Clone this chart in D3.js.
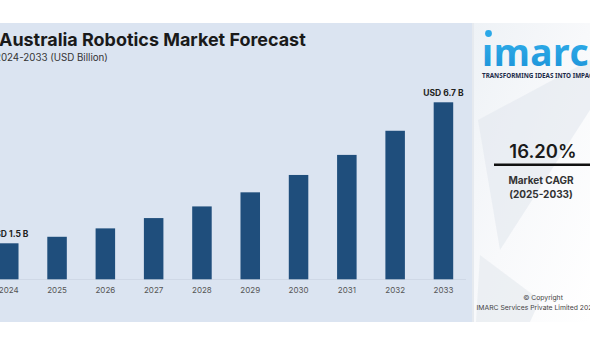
<!DOCTYPE html>
<html><head><meta charset="utf-8">
<script src="https://cdn.jsdelivr.net/npm/d3@7"></script>
<style>body{margin:0;background:#fff}svg{display:block}</style>
</head><body>
<svg id="c" width="590" height="354"></svg>
<script>
const years = ["2024","2025","2026","2027","2028","2029","2030","2031","2032","2033"];
const values = [1.5, 1.74, 2.05, 2.43, 2.86, 3.38, 4.02, 4.76, 5.65, 6.7];
const valueLabels = {"2024":"USD 1.5 B","2033":"USD 6.7 B"};
const titleText = "Australia Robotics Market Forecast";
const subtitleText = "2024-2033 (USD Billion)";
const cagrText = "16.20%";
const cagrLabel = ["Market CAGR","(2025-2033)"];

const svg = d3.select("#c");
const defs = svg.append("defs");
const g1 = defs.append("linearGradient").attr("id","rp").attr("x1","0").attr("y1","0").attr("x2","1").attr("y2","1");
g1.append("stop").attr("offset","0").attr("stop-color","#eef2f6");
g1.append("stop").attr("offset","0.5").attr("stop-color","#f8f9fb");
g1.append("stop").attr("offset","1").attr("stop-color","#ffffff");
const g2 = defs.append("linearGradient").attr("id","logo").attr("x1","0").attr("y1","0").attr("x2","0").attr("y2","1");
g2.append("stop").attr("offset","0").attr("stop-color","#35b6ef");
g2.append("stop").attr("offset","1").attr("stop-color","#1a8fd6");

// main panel
svg.append("rect").attr("x",0).attr("y",23).attr("width",472).attr("height",299).attr("fill","#dbe4f1");
// right panel
svg.append("rect").attr("x",472).attr("y",23).attr("width",118).attr("height",299).attr("fill","url(#rp)");
svg.append("line").attr("x1",473).attr("x2",473).attr("y1",23).attr("y2",322).attr("stroke","#e6eaef").attr("stroke-width",2);
// faint decorative shapes
svg.append("path").attr("d","M478,120 L590,60 L590,110 L500,250 Z").attr("fill","#e3e8ee").attr("opacity",0.6);
svg.append("path").attr("d","M480,255 L540,300 L530,322 L476,322 Z").attr("fill","#e7ebf0").attr("opacity",0.7);

const x = d3.scaleBand().domain(years).range([-1, 453.2]).paddingInner(0.596).paddingOuter(0);
const y = d3.scaleLinear().domain([0.172, 6.7]).range([279.3, 102.3]);

svg.append("line").attr("x1",0).attr("x2",466).attr("y1",279.5).attr("y2",279.5).attr("stroke","#cfd8e6").attr("stroke-width",1);

svg.append("g").selectAll("rect").data(years).join("rect")
  .attr("x", d => x(d)).attr("width", x.bandwidth())
  .attr("y", (d,i) => y(values[i])).attr("height", (d,i) => y(0.172) - y(values[i]))
  .attr("fill","#1f4e7c");

svg.append("g").selectAll("text").data(years).join("text")
  .attr("x", d => x(d) + x.bandwidth()/2).attr("y", 293)
  .attr("text-anchor","middle").attr("font-family","Inter, 'Noto Sans', sans-serif")
  .attr("font-size",8).attr("fill","#555").text(d => d);

svg.append("g").selectAll("text").data(years.filter(d => valueLabels[d])).join("text")
  .attr("x", d => x(d) + x.bandwidth()/2)
  .attr("y", d => y(values[years.indexOf(d)]) - 6)
  .attr("text-anchor","middle").attr("font-family","Inter, 'Noto Sans', sans-serif")
  .attr("font-weight",700).attr("font-size",8.5).attr("fill","#222").text(d => valueLabels[d]);

const t = svg.append("text").attr("x",-1).attr("y",46).attr("font-family","Inter, 'Noto Sans', sans-serif")
  .attr("font-weight",700).attr("font-size",16).attr("fill","#1a1a1a").text(titleText);
const tw = t.node().getComputedTextLength();
t.attr("font-size", 16 * 307 / tw);
const s = svg.append("text").attr("x",-5).attr("y",60.5).attr("font-family","Inter, 'Noto Sans', sans-serif")
  .attr("font-size",9).attr("fill","#333").text(subtitleText);
const sw = s.node().getComputedTextLength();
s.attr("font-size", 9 * 113 / sw);

// logo
svg.append("circle").attr("cx",488.5).attr("cy",33.5).attr("r",3.4).attr("fill","#2aa8e8");
svg.append("text").attr("x",482).attr("y",66).attr("font-family","'Noto Sans', Inter, sans-serif")
  .attr("font-weight",700).attr("font-size",37).attr("fill","url(#logo)").attr("letter-spacing",0.6).text("\u0131marc");
svg.append("text").attr("x",482).attr("y",78).attr("font-family","'Noto Sans', Inter, sans-serif")
  .attr("font-weight",700).attr("font-size",6.3).attr("fill","#1d2b4a").text("TRANSFORMING IDEAS INTO IMPACT");

svg.append("text").attr("x",543).attr("y",157.5).attr("text-anchor","middle").attr("font-family","Inter, 'Noto Sans', sans-serif")
  .attr("font-weight",600).attr("font-size",18.5).attr("fill","#1a1a1a").text(cagrText);
svg.append("line").attr("x1",494).attr("x2",590).attr("y1",164.8).attr("y2",164.8).attr("stroke","#111").attr("stroke-width",2.4);
svg.append("g").selectAll("text").data(cagrLabel).join("text")
  .attr("x",541).attr("y",(d,i) => 184 + i*14.3).attr("text-anchor","middle")
  .attr("font-family","Inter, 'Noto Sans', sans-serif").attr("font-weight",700).attr("font-size",10).attr("fill","#333").text(d => d);

svg.append("text").attr("x",543).attr("y",300).attr("text-anchor","middle").attr("font-family","Inter, 'Noto Sans', sans-serif")
  .attr("font-size",6.8).attr("fill","#444").text("© Copyright");
svg.append("text").attr("x",476.5).attr("y",309.5).attr("font-family","Inter, 'Noto Sans', sans-serif")
  .attr("font-size",6.8).attr("fill","#444").text("IMARC Services Private Limited 2025");
</script>
</body></html>
